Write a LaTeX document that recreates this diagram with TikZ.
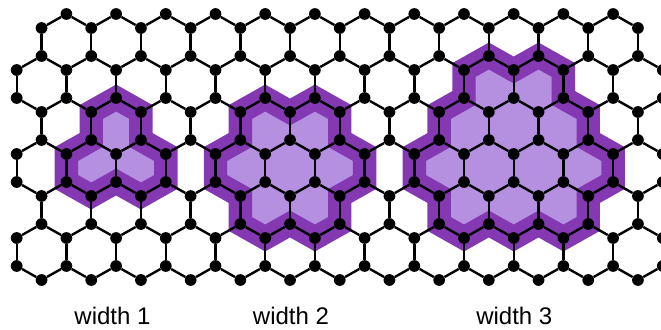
\documentclass[tikz,border=0pt]{standalone}
\usepackage{fontspec}
\setmainfont{Liberation Sans}
\usetikzlibrary{backgrounds}
\definecolor{bandpurple}{HTML}{8439B3}
\definecolor{fillpurple}{HTML}{B58FE0}
\tikzset{
  atom/.style={circle,fill=black,draw=none,inner sep=0pt,minimum size=8.8pt},
  bond/.style={draw=black,line width=1.8pt},
  ribbon/.style={draw=bandpurple,fill=fillpurple,line width=17.6pt,line join=miter},
  caption/.style={anchor=base,font=\fontsize{18pt}{20pt}\selectfont,inner sep=0pt,text=black}
}
\begin{document}
\begin{tikzpicture}[x=0.75pt,y=-0.75pt]
\useasboundingbox (0,0) rectangle (661,329);
% lattice sites
\foreach \r/\y/\s/\e in {0/14/2/24,1/28/1/25,2/56/1/25,3/70/0/26,4/98/0/26,5/112/1/25,6/140/1/25,7/154/0/26,8/182/0/26,9/196/1/25,10/224/1/25,11/238/0/26,12/266/0/26,13/280/1/25}{
  \pgfmathtruncatemacro{\t}{\s+2}
  \foreach \k in {\s,\t,...,\e}{
    \pgfmathsetmacro{\xx}{16.7+24.85*\k}
    \node[atom] (n-\k-\r) at (\xx,\y) {};
  }
}
% ribbons
\begin{scope}[on background layer]
\path[ribbon] (n-3-5.center)--(n-4-4.center)--(n-5-5.center)--(n-5-6.center)--(n-6-7.center)--(n-6-8.center)--(n-5-9.center)--(n-4-8.center)--(n-3-9.center)--(n-2-8.center)--(n-2-7.center)--(n-3-6.center)--cycle;
\path[ribbon] (n-9-5.center)--(n-10-4.center)--(n-11-5.center)--(n-12-4.center)--(n-13-5.center)--(n-13-6.center)--(n-14-7.center)--(n-14-8.center)--(n-13-9.center)--(n-13-10.center)--(n-12-11.center)--(n-11-10.center)--(n-10-11.center)--(n-9-10.center)--(n-9-9.center)--(n-8-8.center)--(n-8-7.center)--(n-9-6.center)--cycle;
\path[ribbon] (n-18-3.center)--(n-19-2.center)--(n-20-3.center)--(n-21-2.center)--(n-22-3.center)--(n-22-4.center)--(n-23-5.center)--(n-23-6.center)--(n-24-7.center)--(n-24-8.center)--(n-23-9.center)--(n-23-10.center)--(n-22-11.center)--(n-21-10.center)--(n-20-11.center)--(n-19-10.center)--(n-18-11.center)--(n-17-10.center)--(n-17-9.center)--(n-16-8.center)--(n-16-7.center)--(n-17-6.center)--(n-17-5.center)--(n-18-4.center)--cycle;
\end{scope}
% top zigzag
\foreach \k in {2,4,...,24}{
  \pgfmathtruncatemacro{\a}{\k-1}
  \pgfmathtruncatemacro{\b}{\k+1}
  \draw[bond] (n-\k-0) -- (n-\a-1);
  \draw[bond] (n-\k-0) -- (n-\b-1);
}
% zigzags between odd-k rows and even-k rows
\foreach \o/\v in {2/3,5/4,6/7,9/8,10/11,13/12}{
  \foreach \k in {1,3,...,25}{
    \pgfmathtruncatemacro{\a}{\k-1}
    \pgfmathtruncatemacro{\b}{\k+1}
    \draw[bond] (n-\k-\o) -- (n-\a-\v);
    \draw[bond] (n-\k-\o) -- (n-\b-\v);
  }
}
% vertical bonds
\foreach \p/\q in {1/2,5/6,9/10}{
  \foreach \k in {1,3,...,25}{\draw[bond] (n-\k-\p) -- (n-\k-\q);}
}
\foreach \p/\q in {3/4,7/8,11/12}{
  \foreach \k in {0,2,...,26}{\draw[bond] (n-\k-\p) -- (n-\k-\q);}
}
% captions
\node[caption] (c1) at (112.5,324) {width 1};
\node[caption] (c2) at (291,324) {width 2};
\node[caption] (c3) at (514.3,324) {width 3};
\end{tikzpicture}
\end{document}
